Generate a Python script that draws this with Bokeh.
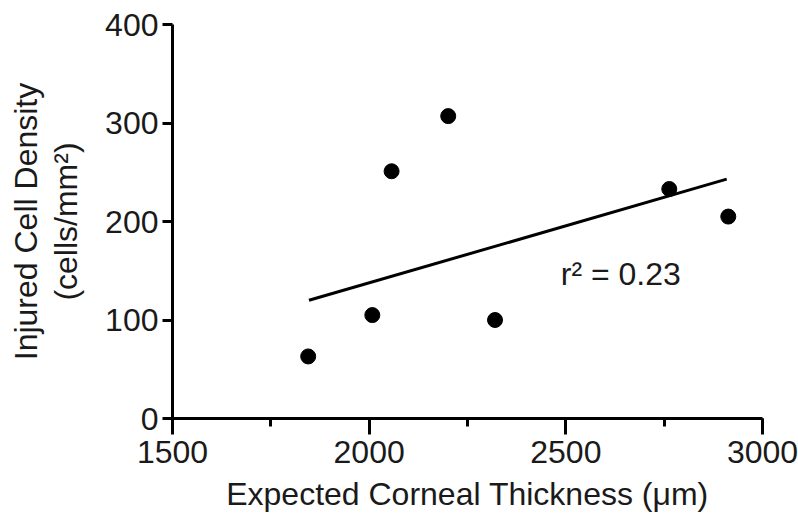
from bokeh.plotting import figure
from bokeh.models import (Range1d, SingleIntervalTicker, LinearAxis, FixedTicker,
                          Label, ColumnDataSource)
from bokeh.embed import file_html
from bokeh.resources import INLINE

# ---- data ----
thickness = [1845, 2008, 2057, 2201, 2320, 2763, 2913]   # Expected corneal thickness (µm)
density = [63, 105, 251, 307, 100, 233, 205]             # Injured cell density (cells/mm²)
fit_x = [1847, 2909]
fit_y = [120, 243]
r2_text = "r\u00b2 = 0.23"
r2_pos = [2487, 147]
x_title = "Expected Corneal Thickness (\u03bcm)"
y_title_line1 = "Injured Cell Density"
y_title_line2 = "(cells/mm\u00b2)"

FONT = "Liberation Sans"
FS = "32px"

p = figure(width=798, height=516, output_backend="svg", toolbar_location=None,
           x_range=Range1d(1500, 3000), y_range=Range1d(0, 400),
           min_border_left=172, min_border_right=36, min_border_top=24,
           min_border_bottom=98)
p.outline_line_color = None
p.grid.visible = False
p.background_fill_color = "white"
p.border_fill_color = "white"

# x axis
xa = p.xaxis[0]
xa.ticker = SingleIntervalTicker(interval=500, num_minor_ticks=2)
xa.axis_label = x_title
xa.major_tick_out = 16
xa.major_tick_in = 0
xa.minor_tick_out = 8
xa.minor_tick_in = 0
xa.major_label_standoff = 6
xa.axis_label_standoff = 10

# y axis (inner: second title line)
ya = p.yaxis[0]
ya.ticker = SingleIntervalTicker(interval=100, num_minor_ticks=0)
ya.axis_label = y_title_line2
ya.major_tick_out = 10
ya.major_tick_in = 0
ya.minor_tick_out = 0
ya.minor_tick_in = 0
ya.major_label_standoff = 4
ya.axis_label_standoff = 18

for ax in (xa, ya):
    ax.axis_line_width = 3
    ax.major_tick_line_width = 3
    ax.minor_tick_line_width = 3
    ax.axis_line_color = "black"
    ax.major_tick_line_color = "black"
    ax.minor_tick_line_color = "black"
    ax.major_label_text_font = FONT
    ax.major_label_text_font_size = FS
    ax.major_label_text_color = "#1a1a1a"
    ax.axis_label_text_font = FONT
    ax.axis_label_text_font_size = FS
    ax.axis_label_text_font_style = "normal"
    ax.axis_label_text_color = "#1a1a1a"

# outer axis carrying the first title line
outer = LinearAxis(ticker=FixedTicker(ticks=[]), axis_label=y_title_line1,
                   axis_line_color=None, major_tick_out=0, major_tick_in=0,
                   minor_tick_out=0, minor_tick_in=0,
                   major_label_text_font_size="0px", major_label_standoff=0,
                   axis_label_standoff=2, axis_label_text_font=FONT,
                   axis_label_text_font_size=FS, axis_label_text_font_style="normal",
                   axis_label_text_color="#1a1a1a")
p.add_layout(outer, "left")

src = ColumnDataSource(dict(x=thickness, y=density))
p.line(fit_x, fit_y, line_color="black", line_width=3)
p.scatter("x", "y", source=src, size=15, marker="circle",
          fill_color="black", line_color="black")

p.add_layout(Label(x=r2_pos[0], y=r2_pos[1], text=r2_text, text_font=FONT,
                   text_font_size=FS, text_color="#1a1a1a",
                   text_baseline="alphabetic", text_align="left"))

open("out.html", "w").write(file_html(p, INLINE))
